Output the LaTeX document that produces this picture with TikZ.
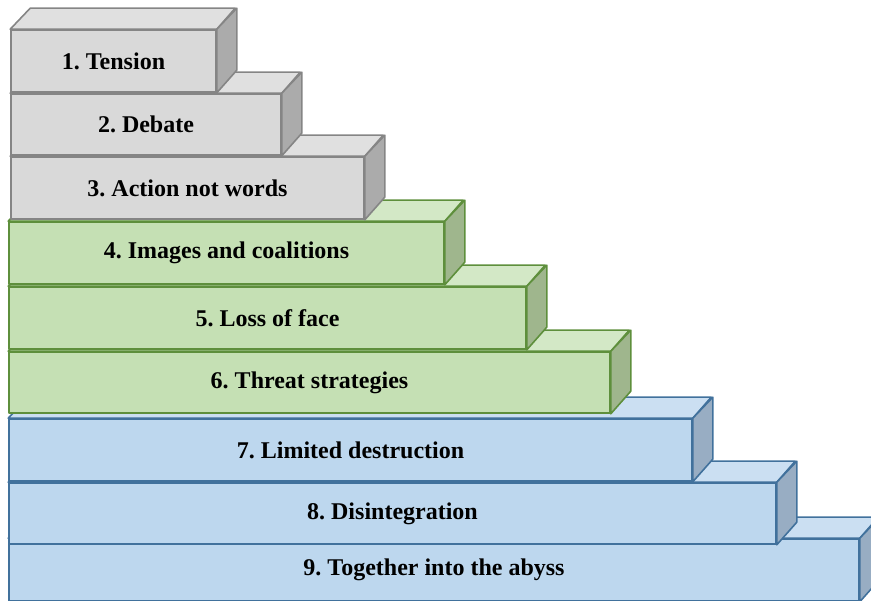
\documentclass[tikz,border=0pt]{standalone}
\usepackage{fontspec}
\setmainfont{Liberation Serif}
\definecolor{gF}{HTML}{D9D9D9}
\definecolor{gT}{HTML}{E0E0E0}
\definecolor{gS}{HTML}{ABABAB}
\definecolor{gB}{HTML}{858585}
\definecolor{nF}{HTML}{C5E0B4}
\definecolor{nT}{HTML}{D3E8C6}
\definecolor{nS}{HTML}{9FB68D}
\definecolor{nB}{HTML}{5E8F3C}
\definecolor{bF}{HTML}{BDD7EE}
\definecolor{bT}{HTML}{CBDFF2}
\definecolor{bS}{HTML}{98ADC3}
\definecolor{bB}{HTML}{41719C}
\tikzset{
  face/.style={line width=1.6pt, line join=round},
  frontbox/.style={face, inner sep=0pt, font=\fontsize{24}{28}\selectfont\bfseries\frenchspacing, text=black},
}
% \cuboid{name}{left}{top}{right}{bottom}{prefix}{text}
\newcommand\cuboid[7]{%
  \node[frontbox, draw=#6B, fill=#6F, minimum width={(#4-#2)*1pt}, minimum height={(#5-#3)*1pt}]
    (#1) at ({(#2+#4)/2},{(#3+#5)/2}) {#7};
  \draw[face, draw=#6B, fill=#6T] (#1.north west) -- ++(20,-21) -- ++({#4-#2},0) -- (#1.north east) -- cycle;
  \draw[face, draw=#6B, fill=#6S] (#1.north east) -- ++(20,-21) -- ++(0,{#5-#3}) -- (#1.south east) -- cycle;
}
\begin{document}
\begin{tikzpicture}[x=1pt,y=-1pt]
\useasboundingbox (0,0) rectangle (871,601);
\cuboid{b9}{9}{539}{859}{601}{b}{9. Together into the abyss}
\cuboid{b8}{9}{483}{776}{544}{b}{8. Disintegration}
\cuboid{b7}{9}{419}{692}{481}{b}{7. Limited destruction}
\cuboid{b6}{9}{352}{610}{413}{n}{6. Threat strategies}
\cuboid{b5}{9}{287}{526}{349}{n}{5. Loss of face}
\cuboid{b4}{9}{222}{444}{284}{n}{4. Images and coalitions}
\cuboid{b3}{11}{157}{364}{219}{g}{3. Action not words}
\cuboid{b2}{11}{94}{281}{155}{g}{2. Debate}
\cuboid{b1}{11}{30}{216}{92}{g}{1. Tension}
\end{tikzpicture}
\end{document}
